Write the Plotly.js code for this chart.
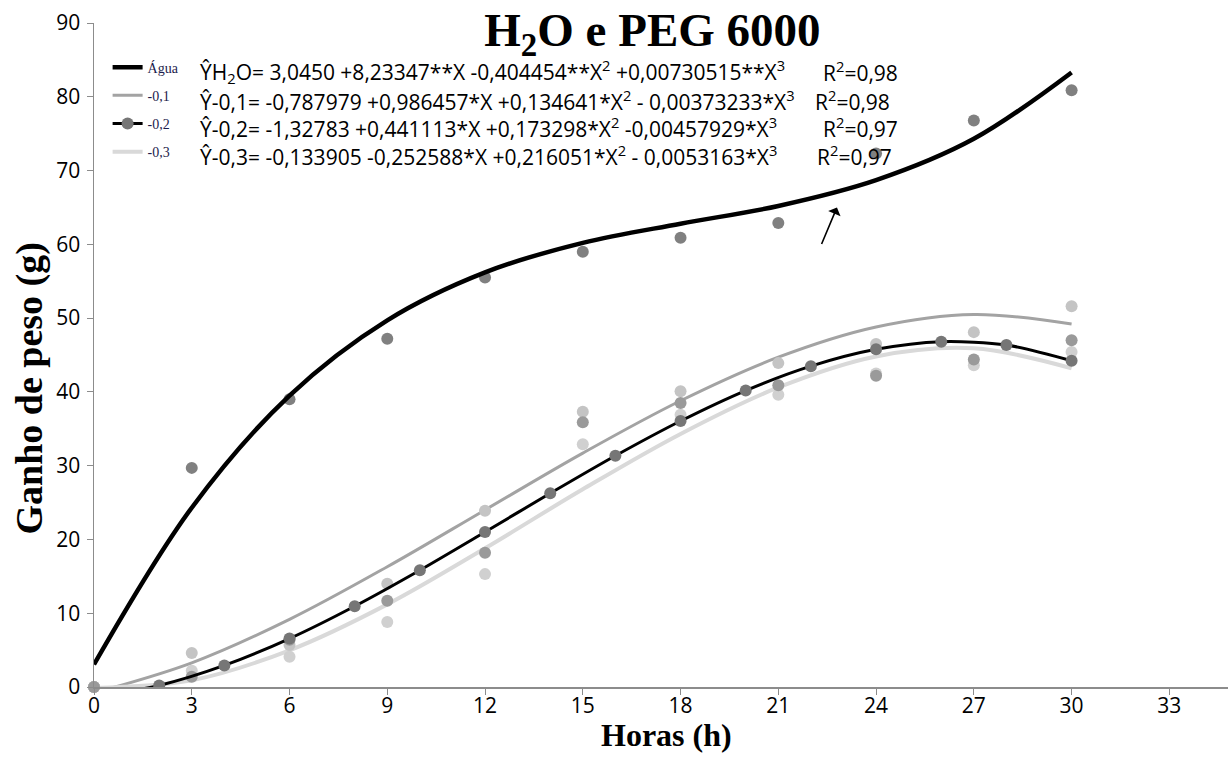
<!DOCTYPE html>
<html>
<head>
<meta charset="utf-8">
<script src="https://cdn.plot.ly/plotly-3.0.1.min.js"></script>
<style>html,body{margin:0;padding:0;background:#fff;}#chart{width:1231px;height:771px;}</style>
</head>
<body>
<div id="chart"></div>
<script>
// ---- data ----
const horas = [0, 3, 6, 9, 12, 15, 18, 21, 24, 27, 30];
const horasPares = [0, 2, 4, 6, 8, 10, 12, 14, 16, 18, 20, 22, 24, 26, 28, 30];

// observed points
const aguaObs  = [0, 29.7, 39.0, 47.2, 55.5, 59.0, 60.9, 62.9, 72.3, 76.8, 80.9];
const neg01Obs = [0, 4.6, 5.7, 14.0, 23.9, 37.3, 40.1, 43.9, 46.5, 48.1, 51.6];
const neg02Obs = [0, 1.4, 6.4, 11.7, 18.2, 35.9, 38.5, 40.9, 42.2, 44.4, 47.0];
const neg03Obs = [0, 2.2, 4.1, 8.8, 15.3, 32.9, 36.9, 39.6, 42.5, 43.6, 45.4];

// fitted curves as drawn in the picture
const aguaFit  = [3.05, 24.3, 39.5, 49.7, 56.2, 60.2, 62.8, 65.2, 68.7, 74.3, 83.3];
const neg01Fit = [-0.79, 3.28, 9.17, 16.3, 24.0, 31.7, 38.8, 44.7, 48.8, 50.5, 49.2];
const neg03Fit = [-0.13, 0.91, 4.98, 11.2, 18.8, 26.8, 34.3, 40.6, 44.8, 45.9, 43.2];
const neg02Fit = [-1.33, 0.21, 2.92, 6.57, 10.95, 15.83, 21.01, 26.25, 31.34, 36.05, 40.18, 43.49, 45.77, 46.81, 46.36, 44.23];

const seriesNames = ["Água", "-0,1", "-0,2", "-0,3"];
const xTicks = [0, 3, 6, 9, 12, 15, 18, 21, 24, 27, 30, 33];
const yTicks = [0, 10, 20, 30, 40, 50, 60, 70, 80, 90];
const xTitle = "Horas (h)";
const yTitle = "Ganho de peso (g)";

const equations = [
  "ŶH<sub>2</sub>O= 3,0450 +8,23347**X -0,404454**X<sup>2</sup> +0,00730515**X<sup>3</sup>",
  "Ŷ-0,1= -0,787979 +0,986457*X +0,134641*X<sup>2</sup> - 0,00373233*X<sup>3</sup>",
  "Ŷ-0,2= -1,32783 +0,441113*X +0,173298*X<sup>2</sup> -0,00457929*X<sup>3</sup>",
  "Ŷ-0,3= -0,133905 -0,252588*X +0,216051*X<sup>2</sup> - 0,0053163*X<sup>3</sup>"
];
const r2Labels = ["R<sup>2</sup>=0,98", "R<sup>2</sup>=0,98", "R<sup>2</sup>=0,97", "R<sup>2</sup>=0,97"];

// ---- styles ----
const sansFont = "Open Sans";
const serifFont = "Liberation Serif";
const dotSize = 12;

const traces = [
  {x: horas, y: aguaObs, mode: "markers", type: "scatter", showlegend: false, cliponaxis: false,
   marker: {color: "#808080", size: dotSize}},
  {x: horas, y: aguaFit, mode: "lines", type: "scatter", name: seriesNames[0], legendrank: 1, legendgroup: "a",
   line: {color: "#000000", width: 4.5, shape: "spline", smoothing: 1}},
  {x: horas, y: neg01Fit, mode: "lines", type: "scatter", name: seriesNames[1], legendrank: 2, legendgroup: "b",
   line: {color: "#a3a3a3", width: 3, shape: "spline", smoothing: 1}},
  {x: horas, y: neg03Fit, mode: "lines", type: "scatter", name: seriesNames[3], legendrank: 4, legendgroup: "d",
   line: {color: "#d9d9d9", width: 4, shape: "spline", smoothing: 1}},
  {x: horas, y: neg01Obs, mode: "markers", type: "scatter", showlegend: false, cliponaxis: false,
   marker: {color: "#c4c4c4", size: dotSize}},
  {x: horas, y: neg03Obs, mode: "markers", type: "scatter", showlegend: false, cliponaxis: false,
   marker: {color: "#d0d0d0", size: dotSize}},
  {x: horas, y: neg02Obs, mode: "markers", type: "scatter", showlegend: false, cliponaxis: false,
   marker: {color: "#9a9a9a", size: dotSize}},
  {x: horasPares, y: neg02Fit, mode: "lines+markers", type: "scatter", name: seriesNames[2], legendrank: 3, legendgroup: "c",
   line: {color: "#000000", width: 3, shape: "spline", smoothing: 0.8},
   marker: {color: "#767676", size: 12}}
];

const annotations = [];
const eqY = [0.9265, 0.884, 0.842, 0.800];
const r2X = [0.641, 0.634, 0.641, 0.636];
for (let i = 0; i < equations.length; i++) {
  annotations.push({xref: "paper", yref: "paper", x: 0.0917, y: eqY[i], xanchor: "left", yanchor: "middle",
    text: equations[i], showarrow: false, font: {family: sansFont, size: 21, color: "#000"}});
  annotations.push({xref: "paper", yref: "paper", x: r2X[i], y: eqY[i], xanchor: "left", yanchor: "middle",
    text: r2Labels[i], showarrow: false, font: {family: sansFont, size: 21, color: "#000"}});
}
// axis titles placed where the reference draws them
annotations.push({xref: "paper", yref: "paper", x: 0.505, y: -0.073, xanchor: "center", yanchor: "middle",
  text: "<b>" + xTitle + "</b>", showarrow: false, font: {family: serifFont, size: 32, color: "#000"}});
annotations.push({xref: "paper", yref: "paper", x: -0.057, y: 0.45, xanchor: "center", yanchor: "middle",
  textangle: -90, text: "<b>" + yTitle + "</b>", showarrow: false, font: {family: serifFont, size: 38, color: "#000"}});
// arrow near the H2O curve
annotations.push({x: 22.8, y: 65.0, xref: "x", yref: "y", text: "", showarrow: true,
  ax: -16, ay: 38, arrowhead: 1, arrowsize: 1.4, arrowwidth: 1.6, arrowcolor: "#000"});

const tickFont = {family: "Open Sans", size: 21, color: "#000000"};

const layout = {
  width: 1231, height: 771,
  margin: {l: 94, r: 3, t: 23, b: 84},
  paper_bgcolor: "#ffffff", plot_bgcolor: "#ffffff",
  title: {text: "<b>H<sub>2</sub>O e PEG 6000</b>", font: {family: serifFont, size: 47, color: "#000"},
          x: 0.53, xref: "container", xanchor: "center", y: 0.962, yref: "container", yanchor: "middle"},
  xaxis: {range: [0, 34.8], tickmode: "array", tickvals: xTicks, ticktext: xTicks.map(String), showgrid: false, zeroline: false,
          showline: true, linecolor: "#8c8c8c", linewidth: 1.5, ticks: "outside", ticklen: 6, tickcolor: "#8c8c8c",
          tickfont: tickFont, ticklabelstandoff: -7},
  yaxis: {range: [0, 90], tickmode: "array", tickvals: yTicks, ticktext: yTicks.map(String), showgrid: false, zeroline: false,
          showline: true, linecolor: "#8c8c8c", linewidth: 1.5, ticks: "outside", ticklen: 6, tickcolor: "#8c8c8c",
          tickfont: tickFont, ticklabelstandoff: 2},
  showlegend: true,
  legend: {x: 0.012, y: 0.957, xanchor: "left", yanchor: "top", bgcolor: "rgba(0,0,0,0)",
           font: {family: serifFont, size: 14, color: "#1c1c4c"}, tracegroupgap: 7, itemwidth: 30,
           traceorder: "grouped"},
  annotations: annotations
};

Plotly.newPlot("chart", traces, layout, {displayModeBar: false, staticPlot: true});
</script>
</body>
</html>
